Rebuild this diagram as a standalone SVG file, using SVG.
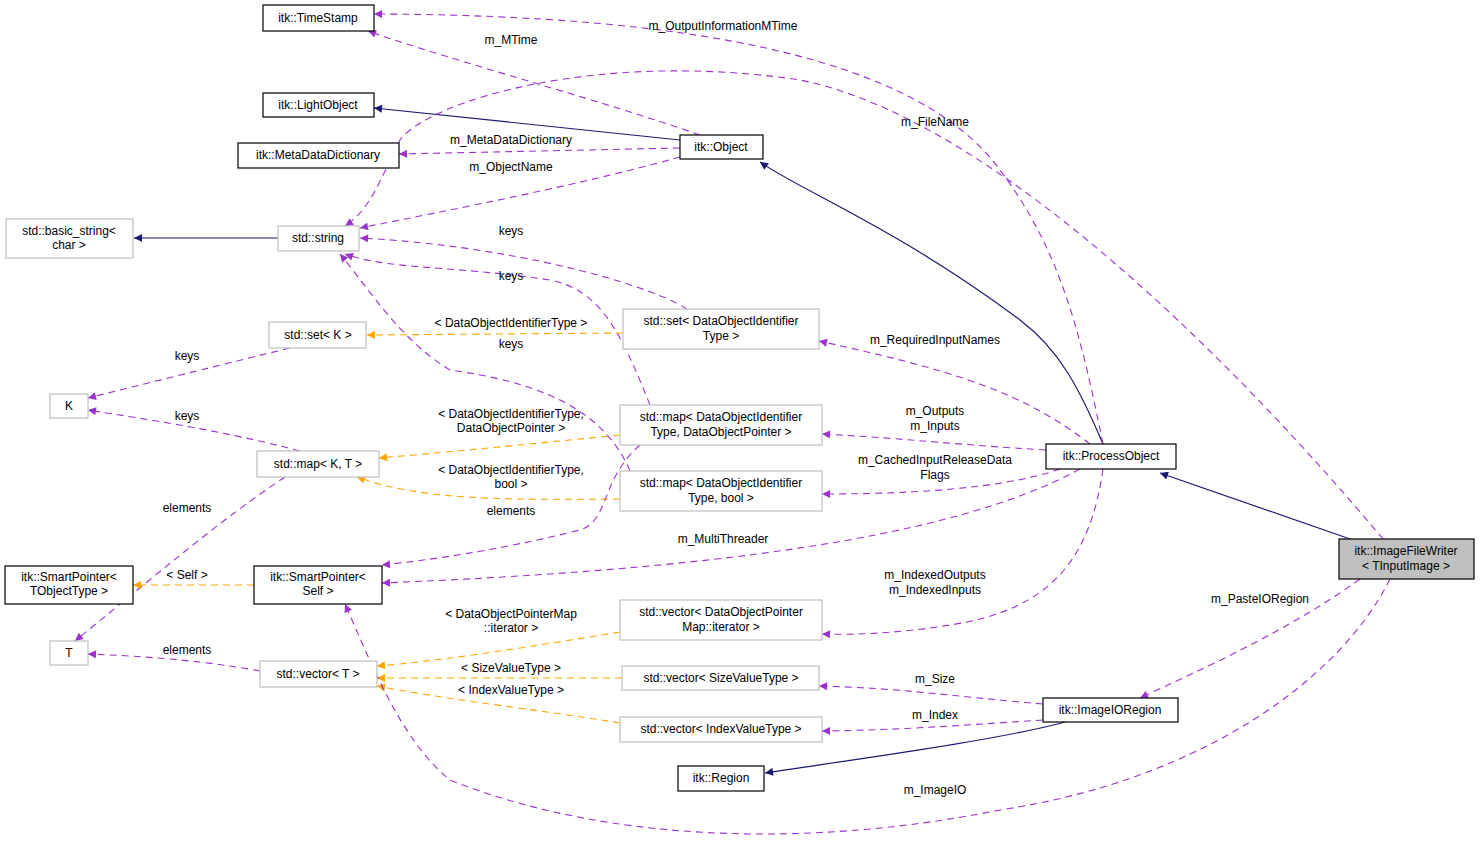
<svg xmlns="http://www.w3.org/2000/svg" width="1480" height="844" viewBox="0 0 1480 844">
<style>
text{font-family:"Liberation Sans",Arial,sans-serif;font-size:12px;text-anchor:middle;fill:#000}
.b{fill:#fff;stroke:#000;stroke-width:1.2}
.g{fill:#fff;stroke:#bfbfbf;stroke-width:1.2}
.n{fill:none;stroke:#191970;stroke-width:1.2;marker-end:url(#an)}
.p{fill:none;stroke:#9a32cd;stroke-width:1.1;stroke-dasharray:7,5;marker-end:url(#ap)}
.o{fill:none;stroke:#ffa500;stroke-width:1.1;stroke-dasharray:7,5;marker-end:url(#ao)}
</style>
<defs>
<marker id="an" viewBox="0 0 10 10" refX="10" refY="5" markerWidth="12" markerHeight="8" markerUnits="userSpaceOnUse" orient="auto"><path d="M0,0L10,5L0,10z" fill="#191970"/></marker>
<marker id="ap" viewBox="0 0 10 10" refX="10" refY="5" markerWidth="12" markerHeight="8" markerUnits="userSpaceOnUse" orient="auto"><path d="M0,0L10,5L0,10z" fill="#9a32cd"/></marker>
<marker id="ao" viewBox="0 0 10 10" refX="10" refY="5" markerWidth="12" markerHeight="8" markerUnits="userSpaceOnUse" orient="auto"><path d="M0,0L10,5L0,10z" fill="#ffa500"/></marker>
</defs>
<rect width="1480" height="844" fill="#fff"/>
<g id="connectors">
<path class="n" d="M680,140 L374,108"/>
<path class="n" d="M1103,444 C1080,390 1060,350 1020,320 C900,230 800,190 760,162"/>
<path class="n" d="M1350,539 L1160,473"/>
<path class="n" d="M1065,722 C1000,740 850,760 765,773"/>
<path class="n" d="M278,238 L134,238"/>
<path class="p" d="M700,135 C600,100 450,60 368,31"/>
<path class="p" d="M1103,444 C1080,330 1060,250 1000,170 C920,60 700,15 374,14"/>
<path class="p" d="M680,148 L399,154"/>
<path class="p" d="M680,157 C580,185 450,210 360,228"/>
<path class="p" d="M1383,539 C1250,380 1000,120 800,80 C600,50 430,100 400,140 C380,180 370,210 345,226"/>
<path class="p" d="M687,309 C640,280 500,245 360,238"/>
<path class="p" d="M650,405 C620,330 600,290 550,280 C450,265 390,270 345,254"/>
<path class="p" d="M630,471 C600,400 520,380 450,370 C400,340 370,290 340,254"/>
<path class="o" d="M623,333 L367,335"/>
<path class="p" d="M290,348 C200,370 140,385 88,398"/>
<path class="p" d="M300,451 C220,430 150,420 88,410"/>
<path class="o" d="M620,435 C520,445 450,452 379,458"/>
<path class="o" d="M620,499 C500,500 420,500 357,477"/>
<path class="p" d="M285,477 C220,520 150,580 75,641"/>
<path class="p" d="M640,445 C600,480 610,520 580,530 C500,550 430,560 382,565"/>
<path class="o" d="M254,585 L133,585"/>
<path class="p" d="M260,671 C200,660 140,656 88,654"/>
<path class="o" d="M620,632 C540,645 450,660 377,666"/>
<path class="o" d="M622,678 L377,678"/>
<path class="o" d="M620,723 C540,710 450,700 377,686"/>
<path class="p" d="M1090,444 C1020,390 950,370 819,341"/>
<path class="p" d="M1046,450 C960,445 900,438 822,434"/>
<path class="p" d="M1060,469 C1000,490 900,494 822,494"/>
<path class="p" d="M1080,469 C950,540 700,570 382,583"/>
<path class="p" d="M1103,469 C1090,560 1050,610 950,625 C900,633 860,635 822,634"/>
<path class="p" d="M1043,704 C950,696 900,688 819,686"/>
<path class="p" d="M1043,720 C950,726 900,730 822,731"/>
<path class="p" d="M1360,579 C1290,630 1200,670 1140,698"/>
<path class="p" d="M1390,579 C1340,680 1200,780 1000,810 C800,850 600,840 450,780 C400,740 370,660 345,604"/>
<text x="511" y="44">m_MTime</text>
<text x="723" y="30">m_OutputInformationMTime</text>
<text x="511" y="144">m_MetaDataDictionary</text>
<text x="511" y="171">m_ObjectName</text>
<text x="935" y="126">m_FileName</text>
<text x="511" y="235">keys</text>
<text x="511" y="280">keys</text>
<text x="511" y="348">keys</text>
<text x="511" y="327">&lt; DataObjectIdentifierType &gt;</text>
<text x="187" y="360">keys</text>
<text x="187" y="420">keys</text>
<text x="511" y="418">&lt; DataObjectIdentifierType,</text>
<text x="511" y="432">DataObjectPointer &gt;</text>
<text x="511" y="474">&lt; DataObjectIdentifierType,</text>
<text x="511" y="488">bool &gt;</text>
<text x="187" y="512">elements</text>
<text x="511" y="515">elements</text>
<text x="187" y="579">&lt; Self &gt;</text>
<text x="187" y="654">elements</text>
<text x="511" y="618">&lt; DataObjectPointerMap</text>
<text x="511" y="632">::iterator &gt;</text>
<text x="511" y="672">&lt; SizeValueType &gt;</text>
<text x="511" y="694">&lt; IndexValueType &gt;</text>
<text x="935" y="344">m_RequiredInputNames</text>
<text x="935" y="415">m_Outputs</text>
<text x="935" y="430">m_Inputs</text>
<text x="935" y="464">m_CachedInputReleaseData</text>
<text x="935" y="479">Flags</text>
<text x="723" y="543">m_MultiThreader</text>
<text x="935" y="579">m_IndexedOutputs</text>
<text x="935" y="594">m_IndexedInputs</text>
<text x="935" y="683">m_Size</text>
<text x="935" y="719">m_Index</text>
<text x="1260" y="603">m_PasteIORegion</text>
<text x="935" y="794">m_ImageIO</text>
</g>
<g id="TimeStamp"><rect class="b" x="263" y="5" width="111" height="26"/><text x="318" y="22">itk::TimeStamp</text></g>
<g id="LightObject"><rect class="b" x="263" y="93" width="111" height="24"/><text x="318" y="109">itk::LightObject</text></g>
<g id="MetaDataDictionary"><rect class="b" x="238" y="143" width="161" height="25"/><text x="318" y="159">itk::MetaDataDictionary</text></g>
<g id="basic_string"><rect class="g" x="6" y="219" width="127" height="39"/><text x="69" y="235">std::basic_string&lt;</text><text x="69" y="249">char &gt;</text></g>
<g id="string"><rect class="g" x="278" y="226" width="81" height="25"/><text x="318" y="242">std::string</text></g>
<g id="Object"><rect class="b" x="680" y="135" width="83" height="24"/><text x="721" y="151">itk::Object</text></g>
<g id="setK"><rect class="g" x="269" y="322" width="97" height="26"/><text x="318" y="339">std::set&lt; K &gt;</text></g>
<g id="K"><rect class="g" x="50" y="394" width="38" height="24"/><text x="69" y="410">K</text></g>
<g id="mapKT"><rect class="g" x="257" y="451" width="122" height="26"/><text x="318" y="468">std::map&lt; K, T &gt;</text></g>
<g id="SmartPointerTObject"><rect class="b" x="5" y="566" width="128" height="38"/><text x="69" y="581">itk::SmartPointer&lt;</text><text x="69" y="595">TObjectType &gt;</text></g>
<g id="SmartPointerSelf"><rect class="b" x="254" y="566" width="128" height="38"/><text x="318" y="581">itk::SmartPointer&lt;</text><text x="318" y="595">Self &gt;</text></g>
<g id="T"><rect class="g" x="50" y="641" width="38" height="24"/><text x="69" y="657">T</text></g>
<g id="vectorT"><rect class="g" x="260" y="661" width="117" height="26"/><text x="318" y="678">std::vector&lt; T &gt;</text></g>
<g id="setDOIT"><rect class="g" x="623" y="309" width="196" height="40"/><text x="721" y="325">std::set&lt; DataObjectIdentifier</text><text x="721" y="340">Type &gt;</text></g>
<g id="mapDOP"><rect class="g" x="620" y="405" width="202" height="40"/><text x="721" y="421">std::map&lt; DataObjectIdentifier</text><text x="721" y="436">Type, DataObjectPointer &gt;</text></g>
<g id="mapBool"><rect class="g" x="620" y="471" width="202" height="40"/><text x="721" y="487">std::map&lt; DataObjectIdentifier</text><text x="721" y="502">Type, bool &gt;</text></g>
<g id="vectorDOPM"><rect class="g" x="620" y="600" width="202" height="40"/><text x="721" y="616">std::vector&lt; DataObjectPointer</text><text x="721" y="631">Map::iterator &gt;</text></g>
<g id="vectorSize"><rect class="g" x="622" y="666" width="197" height="24"/><text x="721" y="682">std::vector&lt; SizeValueType &gt;</text></g>
<g id="vectorIndex"><rect class="g" x="620" y="717" width="202" height="25"/><text x="721" y="733">std::vector&lt; IndexValueType &gt;</text></g>
<g id="ProcessObject"><rect class="b" x="1046" y="444" width="130" height="25"/><text x="1111" y="460">itk::ProcessObject</text></g>
<g id="ImageIORegion"><rect class="b" x="1043" y="698" width="135" height="24"/><text x="1110" y="714">itk::ImageIORegion</text></g>
<g id="Region"><rect class="b" x="678" y="766" width="86" height="25"/><text x="721" y="782">itk::Region</text></g>
<g id="ImageFileWriter"><rect x="1339" y="539" width="135" height="40" fill="#bfbfbf" stroke="#000" stroke-width="1.2"/><text x="1406" y="555">itk::ImageFileWriter</text><text x="1406" y="570">&lt; TInputImage &gt;</text></g>
</svg>
